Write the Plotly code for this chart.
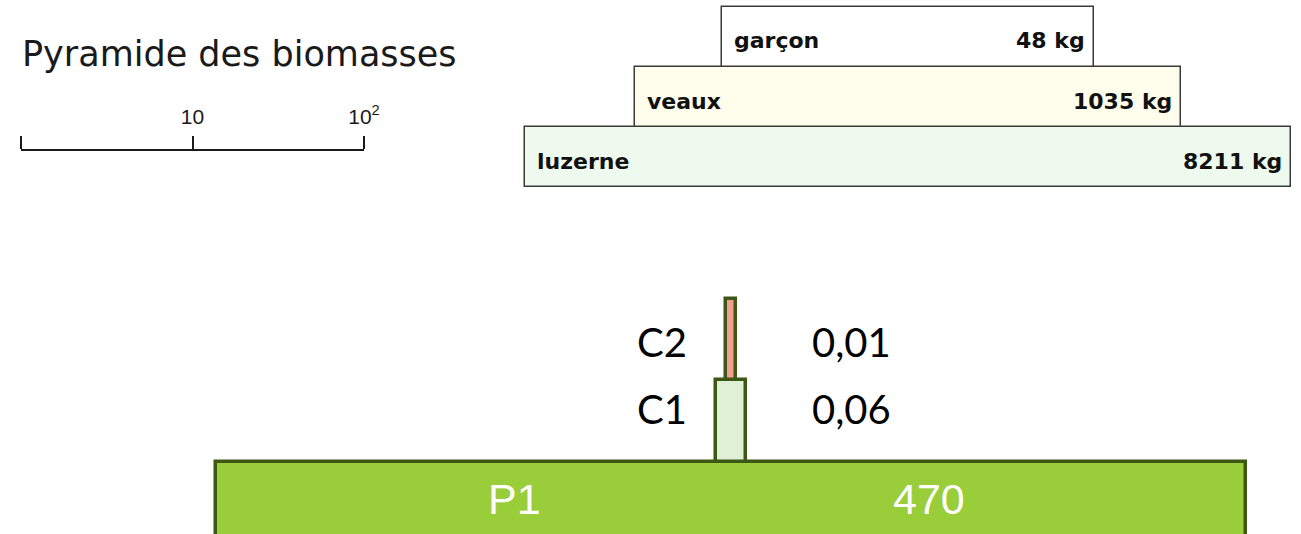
import numpy as np
import plotly.graph_objects as go

# ---------------- data ----------------
title_text = "Pyramide des biomasses"

top_levels = ["luzerne", "veaux", "garçon"]
top_biomass_kg = [8211, 1035, 48]
top_length = [4.48, 3.19, 2.18]        # drawn bar length, in units of the scale bar (decades)

bottom_levels = ["P1", "C1", "C2"]
bottom_values = ["470", "0,06", "0,01"]
bottom_length = [6.02, 0.18, 0.053]    # drawn bar length, in units of the scale bar

scale_ticks = [0, 1, 2]
scale_labels = ["", "10", "10<sup>2</sup>"]

# ---------------- styles / layout helpers ----------------
W, H = 1301, 534
PX_PER_UNIT = 171.0
X0_PX = 21.0


def xu(px):
    return (px - X0_PX) / PX_PER_UNIT


def yp(py):
    return 1 - py / H


top_colors = ["#eefaee", "#fffeec", "#ffffff"]
bottom_colors = ["#9acd3a", "#dff0d4", "#f59e92"]

top_center = xu(908)
bottom_center = xu(731)

top_len = np.array(top_length)
top_base = top_center - top_len / 2
bot_len = np.array(bottom_length)
bot_base = bottom_center - bot_len / 2

labelled = [(v, t) for v, t in zip(scale_ticks, scale_labels) if t]
unlabelled = [v for v, t in zip(scale_ticks, scale_labels) if not t]

fig = go.Figure()

fig.add_trace(go.Bar(
    y=top_levels, x=top_len, base=top_base, orientation="h",
    marker=dict(color=top_colors, line=dict(color="#3a3a3a", width=1.5)),
    xaxis="x", yaxis="y2", hoverinfo="skip", showlegend=False,
))

fig.add_trace(go.Bar(
    y=bottom_levels, x=bot_len, base=bot_base, orientation="h",
    marker=dict(color=bottom_colors, line=dict(color="#3d5714", width=3.5)),
    xaxis="x", yaxis="y", hoverinfo="skip", showlegend=False,
))

# invisible trace so that the scale-bar axis is drawn
fig.add_trace(go.Scatter(
    x=[scale_ticks[0], scale_ticks[-1]], y=[top_levels[0], top_levels[0]],
    xaxis="x3", yaxis="y2", mode="markers", marker=dict(opacity=0),
    hoverinfo="skip", showlegend=False,
))

annotations = []
annotations.append(dict(
    text=title_text, xref="paper", yref="paper", x=20 / W, y=yp(54),
    xanchor="left", yanchor="middle", showarrow=False,
    font=dict(family="DejaVu Sans", size=35, color="#1a1a1a"),
))

pad_l = 10 / PX_PER_UNIT
pad_r = 7 / PX_PER_UNIT
for i, (name, kg) in enumerate(zip(top_levels, top_biomass_kg)):
    annotations.append(dict(
        text=name, xref="x", yref="y2", x=top_base[i] + pad_l, y=i,
        xanchor="left", yanchor="middle", yshift=-4, showarrow=False,
        font=dict(family="DejaVu Sans", size=22, color="#111111", weight="bold"),
    ))
    annotations.append(dict(
        text=f"{kg} kg", xref="x", yref="y2", x=top_base[i] + top_len[i] - pad_r, y=i,
        xanchor="right", yanchor="middle", yshift=-4, showarrow=False,
        font=dict(family="DejaVu Sans", size=22, color="#111111", weight="bold"),
    ))

# consumer labels (left) and values (right)
label_y_px = {"C2": 342, "C1": 409}
for name, val in zip(bottom_levels[1:], bottom_values[1:]):
    annotations.append(dict(
        text=name, xref="paper", yref="paper", x=635 / W, y=yp(label_y_px[name]),
        xanchor="left", yanchor="middle", showarrow=False,
        font=dict(family="Lato", size=40, color="#000000"),
    ))
    annotations.append(dict(
        text=val, xref="paper", yref="paper", x=893 / W, y=yp(label_y_px[name]),
        xanchor="right", yanchor="middle", showarrow=False,
        font=dict(family="Lato", size=40, color="#000000"),
    ))

# producer label and value inside the big bar
annotations.append(dict(
    text=bottom_levels[0], xref="paper", yref="paper", x=514 / W, y=yp(499),
    xanchor="center", yanchor="middle", showarrow=False,
    font=dict(family="Liberation Sans", size=43, color="#ffffff"),
))
annotations.append(dict(
    text=bottom_values[0], xref="paper", yref="paper", x=929 / W, y=yp(499),
    xanchor="center", yanchor="middle", showarrow=False,
    font=dict(family="Liberation Sans", size=43, color="#ffffff"),
))

row_top = 60.17
row_bot = 81.5
fig.update_layout(
    width=W, height=H, autosize=False,
    margin=dict(l=0, r=0, t=0, b=0, pad=0, autoexpand=False),
    paper_bgcolor="#ffffff", plot_bgcolor="rgba(0,0,0,0)",
    bargap=0, showlegend=False,
    xaxis=dict(domain=[0, 1], range=[xu(0), xu(W)], visible=False, anchor="y",
               fixedrange=True),
    yaxis=dict(type="category", categoryorder="array", categoryarray=bottom_levels,
               domain=[0, yp(294)],
               range=[0.5 - (534 - 461.5) / row_bot, 2.5 + 4.5 / row_bot],
               visible=False, anchor="x", fixedrange=True),
    yaxis2=dict(type="category", categoryorder="array", categoryarray=top_levels,
                domain=[yp(192), yp(2)],
                range=[-0.5 - 4.75 / row_top, 2.5 + 4.75 / row_top],
                visible=False, anchor="x", fixedrange=True),
    xaxis3=dict(domain=[21 / W, 364 / W], range=[scale_ticks[0], scale_ticks[-1]],
                anchor="free", position=yp(150), side="top", automargin=False,
                showline=True, linecolor="#1a1a1a", linewidth=2,
                ticks="outside", ticklen=13, tickwidth=2, tickcolor="#1a1a1a",
                tickmode="array",
                tickvals=[v for v, _ in labelled], ticktext=[t for _, t in labelled],
                minor=dict(tickmode="array", tickvals=unlabelled, ticks="outside",
                           ticklen=13, tickwidth=2, tickcolor="#1a1a1a", showgrid=False),
                tickfont=dict(family="Liberation Sans", size=21, color="#1a1a1a"),
                ticklabelstandoff=4,
                showgrid=False, zeroline=False, fixedrange=True),
    annotations=annotations,
)

post = (
    "document.body.style.margin='0px';"
    "document.body.style.overflow='hidden';"
)

fig.write_html("out.html", config={"displayModeBar": False}, post_script=post)
